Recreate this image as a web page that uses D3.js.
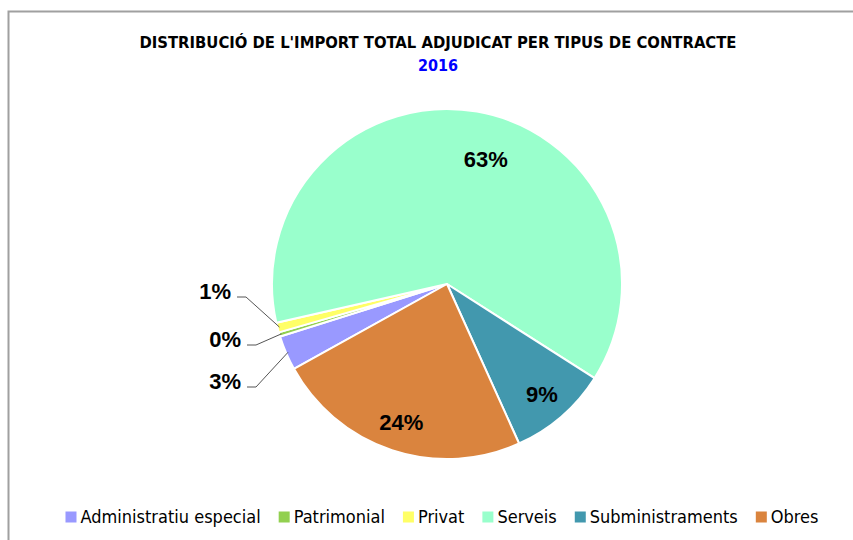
<!DOCTYPE html>
<html>
<head>
<meta charset="utf-8">
<script src="https://cdn.jsdelivr.net/npm/d3@7"></script>
<style>
  body { margin: 0; background: #fff; }
  svg { display: block; font-family: "Liberation Sans Narrow", "DejaVu Sans Condensed", "Liberation Sans", sans-serif; }
</style>
</head>
<body>
<script>
// * data (percent of total amount awarded)
var categories = ['Administratiu especial', 'Patrimonial', 'Privat', 'Serveis', 'Subministraments', 'Obres'];
var values = [3.2, 0.4, 0.9, 62.6, 9.2, 23.7];
var colors = ['#9999FF', '#92D050', '#FFFF66', '#99FFCC', '#4298AE', '#DA843E'];
var title = "DISTRIBUCIÓ DE L'IMPORT TOTAL ADJUDICAT PER TIPUS DE CONTRACTE";
var subtitle = '2016';

var W = 853, H = 540;
var cx = 447, cy = 284, R = 175;

var svg = d3.select('body').append('svg').attr('width', W).attr('height', H);

// chart area border (runs off the right / bottom edge)
svg.append('rect').attr('x', 8.5).attr('y', 11.5).attr('width', 860).attr('height', 560)
   .attr('fill', '#fff').attr('stroke', '#a0a0a0').attr('stroke-width', 2);

svg.append('text').attr('x', 438).attr('y', 48).attr('text-anchor', 'middle')
   .attr('font-size', 16).attr('font-weight', 'bold').attr('fill', '#000')
   .attr('textLength', 597).attr('lengthAdjust', 'spacingAndGlyphs').text(title);
svg.append('text').attr('x', 438).attr('y', 71).attr('text-anchor', 'middle')
   .attr('font-size', 16).attr('font-weight', 'bold').attr('fill', '#0000FF').text(subtitle);

var data = categories.map(function (c, i) { return { name: c, value: values[i], color: colors[i] }; });

// first slice starts at ~241 degrees clockwise from 12 o'clock
var start = 241 * Math.PI / 180;
var pie = d3.pie().sort(null).value(function (d) { return d.value; })
            .startAngle(start).endAngle(start + 2 * Math.PI);
var arcs = pie(data);
var arc = d3.arc().innerRadius(0).outerRadius(R);

var g = svg.append('g').attr('transform', 'translate(' + cx + ',' + cy + ')');
g.selectAll('path').data(arcs).enter().append('path')
  .attr('d', arc).attr('fill', function (d) { return d.data.color; })
  .attr('stroke', '#fff').attr('stroke-width', 2).attr('stroke-linejoin', 'round');

function pct(d) { return Math.round(d.data.value) + '%'; }

// inside labels for the big slices
var labelArc = d3.arc().innerRadius(145).outerRadius(145);
var nudge = { 'Serveis': [14, 18] };
g.selectAll('text.in').data(arcs.filter(function (d) { return d.data.value > 5; })).enter()
  .append('text').attr('class', 'in')
  .attr('transform', function (d) {
    var p = labelArc.centroid(d), n = nudge[d.data.name] || [0, 0];
    return 'translate(' + (p[0] + n[0]) + ',' + (p[1] + n[1]) + ')';
  })
  .attr('text-anchor', 'middle').attr('dy', '0.36em')
  .attr('font-family', 'Liberation Sans, sans-serif')
  .attr('font-size', 22).attr('font-weight', 'bold').text(pct);

// outside labels with leader lines for the small slices
var small = arcs.filter(function (d) { return d.data.value <= 5; });
var outY = { 'Privat': 297, 'Patrimonial': 345, 'Administratiu especial': 387 };
var outX = { 'Privat': 246, 'Patrimonial': 256, 'Administratiu especial': 256 };
small.forEach(function (d) {
  var a = (d.startAngle + d.endAngle) / 2;
  var px = Math.sin(a) * (R - 2), py = -Math.cos(a) * (R - 2);
  var y = outY[d.data.name] - cy;
  var x1 = outX[d.data.name] - cx;
  g.append('polyline')
   .attr('points', [[x1 - 9, y], [x1, y], [px, py]].map(function (p) { return p.join(','); }).join(' '))
   .attr('fill', 'none').attr('stroke', '#555').attr('stroke-width', 1);
  g.append('text').attr('x', x1 - 15).attr('y', y - 6).attr('text-anchor', 'end').attr('dy', '0.36em')
   .attr('font-family', 'Liberation Sans, sans-serif')
   .attr('font-size', 22).attr('font-weight', 'bold').text(pct(d));
});

// legend, centred along the bottom
var legend = svg.append('g');
var items = legend.selectAll('g').data(data).enter().append('g');
items.append('rect').attr('width', 11).attr('height', 11).attr('y', -5.5)
     .attr('fill', function (d) { return d.color; });
items.append('text').attr('x', 15).attr('dy', '0.35em').attr('font-size', 18).attr('fill', '#000')
     .text(function (d) { return d.name; });
var x = 0;
items.each(function () {
  var w = d3.select(this).select('text').node().getComputedTextLength() + 15;
  d3.select(this).attr('transform', 'translate(' + x + ',0)');
  x += w + 18;
});
x -= 18;
legend.attr('transform', 'translate(' + (442 - x / 2) + ',517)');
</script>
</body>
</html>
